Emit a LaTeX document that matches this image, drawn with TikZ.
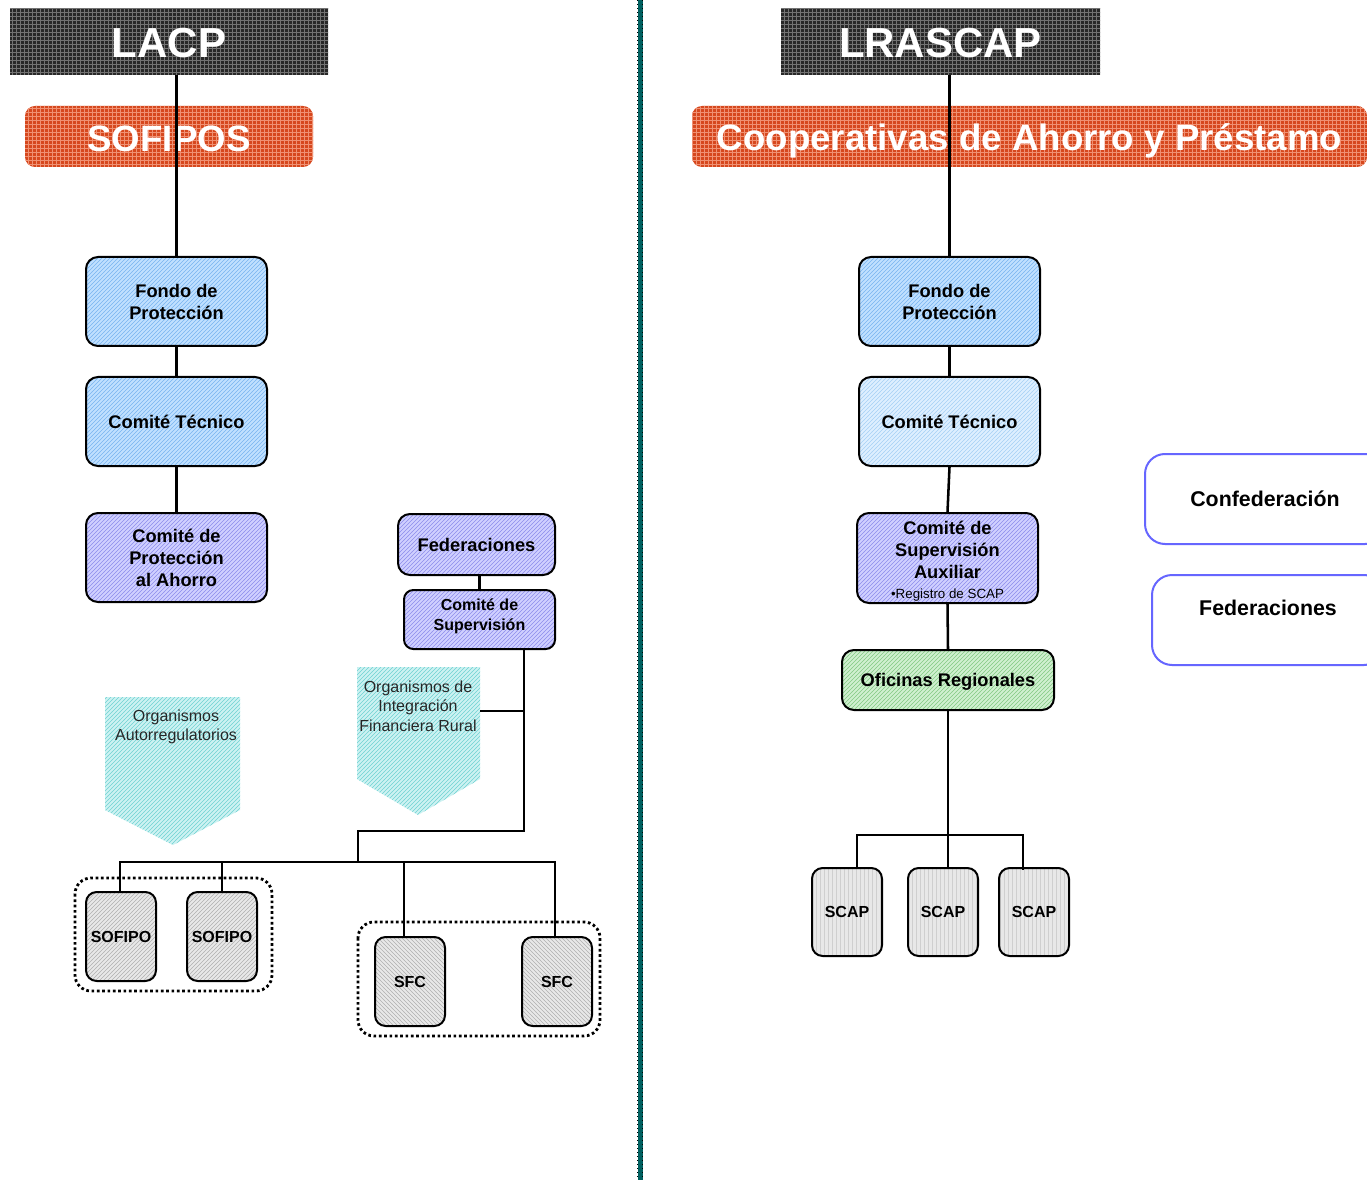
\documentclass[tikz,border=0pt]{standalone}
\usepackage{fontspec}
\setmainfont{Liberation Sans}
\usetikzlibrary{patterns,calc}
\definecolor{hdr}{RGB}{40,40,40}
\definecolor{hdrl}{RGB}{115,115,115}
\definecolor{org}{RGB}{214,72,30}
\definecolor{orgl}{RGB}{240,145,115}
\definecolor{blu}{RGB}{192,224,255}
\definecolor{blul}{RGB}{120,180,240}
\definecolor{blu2}{RGB}{222,239,255}
\definecolor{blu2l}{RGB}{165,208,245}
\definecolor{lav}{RGB}{208,208,255}
\definecolor{lavl}{RGB}{140,140,235}
\definecolor{grn}{RGB}{208,240,208}
\definecolor{grnl}{RGB}{130,200,130}
\definecolor{tea}{RGB}{205,242,242}
\definecolor{teal2}{RGB}{110,210,210}
\definecolor{gry}{RGB}{232,232,232}
\definecolor{gryl}{RGB}{175,175,175}
\definecolor{frame}{RGB}{102,102,255}
\definecolor{divc}{RGB}{0,95,95}
\newcommand{\lowered}[2]{\raisebox{-#1}[0pt][0pt]{#2}}
\tikzset{
 hatch/.style 2 args={preaction={fill=#1}, pattern=north east lines, pattern color=#2},
 hdrbox/.style={preaction={fill=hdr}, pattern=grid, pattern color=hdrl, text=white, font=\fontsize{31.5}{36}\selectfont\bfseries, inner sep=0pt},
 orgbox/.style={preaction={fill=org}, pattern=grid, pattern color=orgl, rounded corners=7.5pt, text=white, font=\fontsize{27.5}{32}\selectfont\bfseries, inner sep=0pt},
 ubox/.style={draw=black, line width=1.5pt, rounded corners=9pt, align=center, inner sep=0pt, font=\fontsize{13.7}{16.5}\selectfont\bfseries, minimum width=135.75pt, minimum height=66.75pt},
 smallbox/.style={draw=black, line width=1.5pt, rounded corners=8pt, align=center, inner sep=0pt, font=\fontsize{12}{14}\selectfont\bfseries, minimum width=52.5pt, minimum height=66.75pt},
 conn/.style={line width=1.9pt, draw=black},
 grp/.style={line width=2.1pt, dash pattern=on 2pt off 2pt, rounded corners=12pt},
 sidebox/.style={draw=frame, line width=1.5pt, fill=white, rounded corners=15pt, align=center, inner sep=0pt, font=\fontsize{16}{19}\selectfont\bfseries},
 chev/.style={hatch={tea}{teal2}},
 chevtext/.style={align=center, font=\fontsize{12}{14.6}\selectfont, text=black!85}
}
\begin{document}
\begin{tikzpicture}[x=0.75pt,y=-0.75pt]
\clip (0,0) rectangle (1367,1180);
\fill[white] (0,0) rectangle (1367,1180);
% ---------------- left ----------------
\node[hdrbox, minimum width=238.5pt, minimum height=49.5pt] (lacp) at (169,42) {\lowered{11.5pt}{LACP}};
\node[orgbox, minimum width=216pt, minimum height=45.75pt] (sofipos) at (169,136.5) {\lowered{10.9pt}{SOFIPOS}};
\node[ubox, hatch={blu}{blul}] (fondoL) at (176.5,301.5) {Fondo de\\Protección};
\node[ubox, hatch={blu}{blul}] (tecL) at (176.5,421.5) {Comité Técnico};
\node[ubox, hatch={lav}{lavl}] (cpa) at (176.5,557.5) {Comité de\\Protección\\al Ahorro};
\node[ubox, hatch={lav}{lavl}, minimum width=117.75pt, minimum height=45.75pt] (fedL) at (476.5,544.5) {Federaciones};
\node[ubox, hatch={lav}{lavl}, minimum width=113.25pt, minimum height=44.25pt, rounded corners=7pt, font=\fontsize{12}{15}\selectfont\bfseries] (csupL) at (479.5,619.5) {Comité de\\Supervisión\\[-7.5pt]\mbox{}};
\path[chev] (105,697) -- (240,697) -- (240,810) -- (173,845) -- (105,810) -- cycle;
\node[chevtext] (oa) at (176,727) {Organismos\\Autorregulatorios};
\path[chev] (357,667) -- (480,667) -- (480,779) -- (418,815) -- (357,779) -- cycle;
\node[chevtext] (oifr) at (418,706) {Organismos de\\Integración\\Financiera Rural};
\coordinate (oifrE) at (480,711);
\node[smallbox, hatch={gry}{gryl}] (sf1) at (121,936.5) {SOFIPO};
\node[smallbox, hatch={gry}{gryl}] (sf2) at (222,936.5) {SOFIPO};
\node[smallbox, preaction={fill=gry}, pattern=north west lines, pattern color=gryl] (sfc1) at (410,981.5) {SFC};
\node[smallbox, preaction={fill=gry}, pattern=north west lines, pattern color=gryl] (sfc2) at (557,981.5) {SFC};
\draw[grp] (75,878) rectangle (272,991);
\draw[grp] (358,922) rectangle (600,1036);
\draw[conn] (fondoL.north |- lacp.south) -- (fondoL.north);
\draw[conn] (fondoL.south) -- (tecL.north);
\draw[conn] (tecL.south) -- (cpa.north);
\draw[conn] (csupL.north |- fedL.south) -- (csupL.north);
\coordinate (jv) at (524,831);
\coordinate (busc) at (358,862);
\draw[conn] (csupL.south -| jv) -- (jv) -| (busc);
\draw[conn] (oifrE) -- (oifrE -| jv);
\coordinate (d0) at ($(sf1.north)+(-1,0)$);
\coordinate (dz) at ($(sfc2.north)+(-2,0)$);
\coordinate (dy) at ($(sfc1.north)+(-6,0)$);
\draw[conn] (d0) -- (d0 |- busc) -- (dz |- busc) -- (dz);
\draw[conn] (sf2.north) -- (sf2.north |- busc);
\draw[conn] (dy) -- (dy |- busc);
% ---------------- divider ----------------
\fill[divc] (637.5,0) rectangle (642.5,1180);
\draw[line width=1pt, dash pattern=on 1pt off 2pt] (637.5,0) -- (637.5,1180);
\draw[line width=1pt, dash pattern=on 1pt off 2pt] (642.5,0) -- (642.5,1180);
% ---------------- right ----------------
\node[hdrbox, minimum width=239.25pt, minimum height=49.5pt] (lras) at (940.5,42) {\lowered{11.5pt}{LRASCAP}};
\node[orgbox, minimum width=506.25pt, minimum height=45.75pt] (coop) at (1029.5,136.5) {\lowered{10.3pt}{Cooperativas de Ahorro y Préstamo}};
\node[ubox, hatch={blu}{blul}] (fondoR) at (949.5,301.5) {Fondo de\\Protección};
\node[ubox, hatch={blu2}{blu2l}] (tecR) at (949.5,421.5) {Comité Técnico};
\node[ubox, hatch={lav}{lavl}, minimum height=67.5pt] (csa) at (947.5,558) {\rule{0pt}{15pt}Comité de\\Supervisión\\Auxiliar\\[-2pt]{\mdseries\fontsize{10}{12}\selectfont •Registro de SCAP}};
\node[ubox, hatch={grn}{grnl}, minimum width=159pt, minimum height=45pt] (ofi) at (948,680) {\lowered{4.9pt}{Oficinas Regionales}};
\node[smallbox, preaction={fill=gry}, pattern=vertical lines, pattern color=gryl!60, minimum height=66pt] (sc1) at (847,912) {SCAP};
\node[smallbox, preaction={fill=gry}, pattern=vertical lines, pattern color=gryl!60, minimum height=66pt] (sc2) at (943,912) {SCAP};
\node[smallbox, preaction={fill=gry}, pattern=vertical lines, pattern color=gryl!60, minimum height=66pt] (sc3) at (1034,912) {SCAP};
\draw[conn] (fondoR.north |- lras.south) -- (fondoR.north);
\draw[conn] (fondoR.south) -- (tecR.north);
\draw[conn] (tecR.south) -- (csa.north);
\draw[conn] (csa.south) -- (ofi.north);
\coordinate (bus2) at (948,835);
\draw[conn] (ofi.south) -- (bus2);
\coordinate (e1) at ($(sc1.north)+(10,0)$);
\coordinate (e3) at ($(sc3.north)+(-11,3)$);
\draw[conn] (e1) -- (e1 |- bus2) -- (e3 |- bus2) -- (e3);
\draw[conn] (bus2 |- sc2.north) -- (bus2);
\node[sidebox, minimum width=180pt, minimum height=67.5pt] (conf) at (1265,499) {Confederación};
\node[sidebox, minimum width=174pt, minimum height=67.5pt] (fedR) at (1268,620) {Federaciones\\\mbox{}};
\end{tikzpicture}
\end{document}
